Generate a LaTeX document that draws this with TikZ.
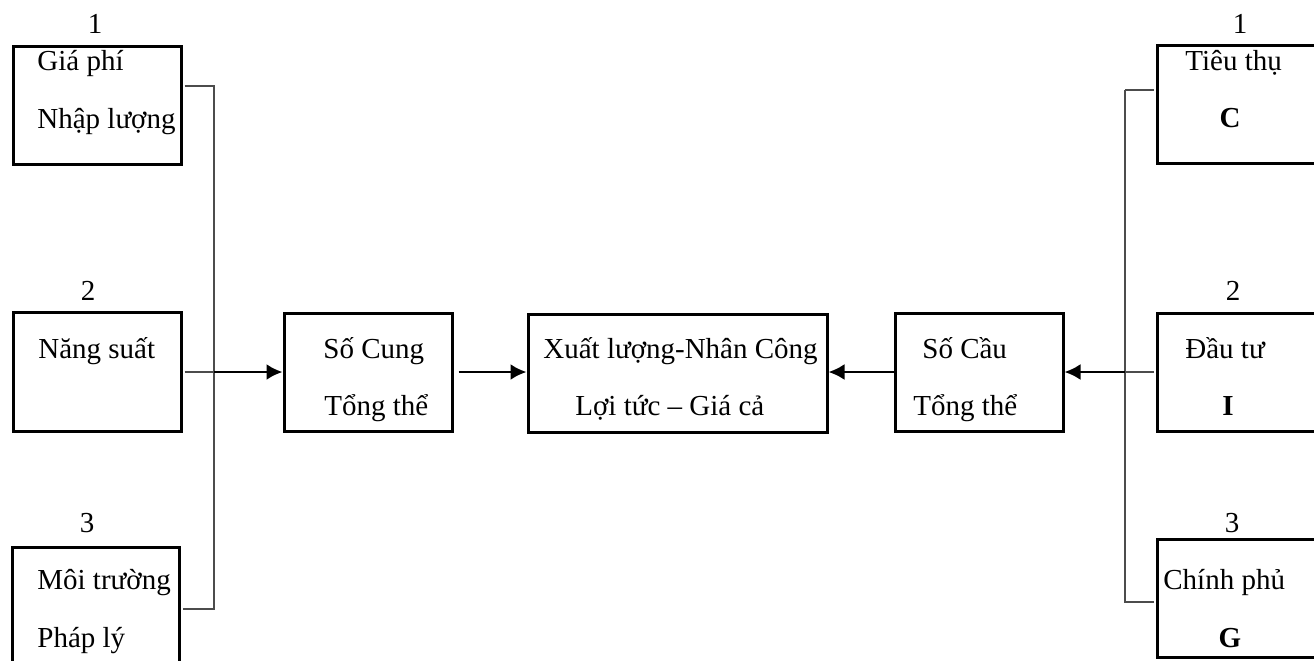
\documentclass[tikz,border=0pt]{standalone}
\usepackage{fontspec}
\setmainfont{Liberation Serif}
\usetikzlibrary{arrows.meta}

\begin{document}
\begin{tikzpicture}[x=0.5pt, y=-0.5pt,
  font=\fontsize{14.5pt}{17pt}\selectfont,
  box/.style = {shape=rectangle, draw, line width=1.5pt, inner sep=0pt},
  txt/.style = {inner sep=0pt, anchor=base west},
  num/.style = {inner sep=0pt, anchor=base},
  feed/.style = {draw=black!70, line width=0.7pt},
  flow/.style = {draw, line width=1.2pt, -{Latex[length=8pt,width=8pt]}}]
  \useasboundingbox (0,0) rectangle (1314,660);

  \node[box, minimum width=84pt, minimum height=59pt] (L1) at (97,105) {};
  \node[box, minimum width=84pt, minimum height=59.5pt] (L2) at (97,371.5) {};
  \node[box, minimum width=83.5pt, minimum height=73pt] (L3) at (95.5,620) {};
  \node[box, minimum width=84pt, minimum height=59pt] (Cung) at (368,372) {};
  \node[box, minimum width=149.5pt, minimum height=59pt] (Mid) at (677.5,373) {};
  \node[box, minimum width=84pt, minimum height=59pt] (Cau) at (979,372) {};
  \node[box, minimum width=91.5pt, minimum height=59pt] (R1) at (1248.5,104) {};
  \node[box, minimum width=91.5pt, minimum height=59pt] (R2) at (1248.5,372) {};
  \node[box, minimum width=91.5pt, minimum height=59pt] (R3) at (1248.5,598) {};

  \node[num] (n1) at (95,33) {1};
  \node[num] (n2) at (88,300) {2};
  \node[num] (n3) at (87,532) {3};
  \node[num] (m1) at (1240,33) {1};
  \node[num] (m2) at (1233,300) {2};
  \node[num] (m3) at (1232,532) {3};

  \node[txt] (t11) at (37,70) {Giá phí};
  \node[txt] (t12) at (37,128) {Nhập lượng};
  \node[txt] (t21) at (38,358) {Năng suất};
  \node[txt] (t31) at (37,589) {Môi trường};
  \node[txt] (t32) at (37,647) {Pháp lý};
  \node[txt] (c1) at (323,358) {Số Cung};
  \node[txt] (c2) at (324,415) {Tổng thể};
  \node[txt] (x1) at (543,358) {Xuất lượng-Nhân Công};
  \node[txt] (x2) at (575,415) {Lợi tức – Giá cả};
  \node[txt] (d1) at (922,358) {Số Cầu};
  \node[txt] (d2) at (913,415) {Tổng thể};
  \node[txt] (u11) at (1185,70) {Tiêu thụ};
  \node[num] (u12) at (1230,127) {\textbf{C}};
  \node[txt] (u21) at (1185,358) {Đầu tư};
  \node[num] (u22) at (1228,415) {\textbf{I}};
  \node[txt] (u31) at (1163,589) {Chính phủ};
  \node[num] (u32) at (1230,647) {\textbf{G}};

  \coordinate (sl1) at (214,86);
  \coordinate (sl2) at (214,372);
  \coordinate (sl3) at (214,609);
  \coordinate (sr1) at (1125,90);
  \coordinate (sr2) at (1125,372);
  \coordinate (sr3) at (1125,602);

  \draw[feed, shorten <=1pt] (L1.east |- sl1) -- (sl1) -- (sl3) -- ([xshift=1pt]L3.east |- sl3);
  \draw[feed, shorten <=1pt] (L2.east |- sl2) -- (sl2);
  \draw[feed, shorten >=1pt] (sr1) -- (sr3) -- (R3.west |- sr3);
  \draw[feed, shorten >=1pt] (sr1) -- (R1.west |- sr1);
  \draw[feed, shorten >=1pt] (sr2) -- (R2.west |- sr2);

  \draw[flow] (sl2) -- (Cung.west);
  \draw[flow, shorten <=2.5pt] (Cung.east) -- (Cung.east -| Mid.west);
  \draw[flow] (Cau.west) -- (Cau.west -| Mid.east);
  \draw[flow] (sr2) -- (Cau.east);
\end{tikzpicture}
\end{document}
